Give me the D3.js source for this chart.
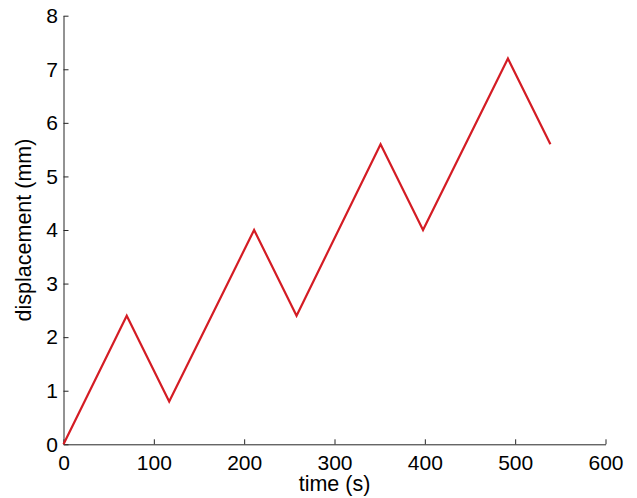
<!DOCTYPE html>
<html><head><meta charset="utf-8">
<script src="https://cdn.jsdelivr.net/npm/d3@7"></script>
<style>body{margin:0;background:#fff;} svg{display:block;}</style>
</head><body>
<script>
const times = [0, 70, 117, 211, 258, 351, 398, 492, 539];
const displacement = [0, 2.4, 0.8, 4.0, 2.4, 5.6, 4.0, 7.2, 5.6];
const xTicks = [0, 100, 200, 300, 400, 500, 600];
const yTicks = [0, 1, 2, 3, 4, 5, 6, 7, 8];

const W = 637, H = 498;
const m = {left: 63.5, top: 15.7, right: 637 - 605.5, bottom: 498 - 444.3};
const svg = d3.select("body").append("svg").attr("width", W).attr("height", H);
const x = d3.scaleLinear().domain([0, 600]).range([m.left, W - m.right]);
const y = d3.scaleLinear().domain([0, 8]).range([H - m.bottom, m.top]);
const font = "'Liberation Sans', Arial, Helvetica, sans-serif";

const xa = svg.append("g").attr("transform", `translate(0,${y(0)})`)
  .call(d3.axisBottom(x).tickValues(xTicks).tickSizeInner(-5).tickSizeOuter(0).tickPadding(10.5));
const ya = svg.append("g").attr("transform", `translate(${x(0)},0)`)
  .call(d3.axisLeft(y).tickValues(yTicks).tickSizeInner(-5).tickSizeOuter(0).tickPadding(5.5));
[xa, ya].forEach(g => {
  g.select(".domain").attr("stroke", "#262626").attr("stroke-width", 1);
  g.selectAll(".tick line").attr("stroke", "#262626");
  g.selectAll(".tick text").attr("font-family", font).attr("font-size", 21).attr("fill", "#000");
});

svg.append("path").datum(times.map((t, i) => [t, displacement[i]]))
  .attr("fill", "none").attr("stroke", "#d41c24").attr("stroke-width", 2.2)
  .attr("stroke-linejoin", "miter")
  .attr("d", d3.line().x(d => x(d[0])).y(d => y(d[1])));

svg.append("text").attr("x", (x(0) + x(600)) / 2).attr("y", 490.5)
  .attr("text-anchor", "middle").attr("font-family", font).attr("font-size", 21.5)
  .text("time (s)");
svg.append("text").attr("transform", `translate(31,${(y(0) + y(8)) / 2}) rotate(-90)`)
  .attr("text-anchor", "middle").attr("font-family", font).attr("font-size", 21.5)
  .text("displacement (mm)");
</script>
</body></html>
